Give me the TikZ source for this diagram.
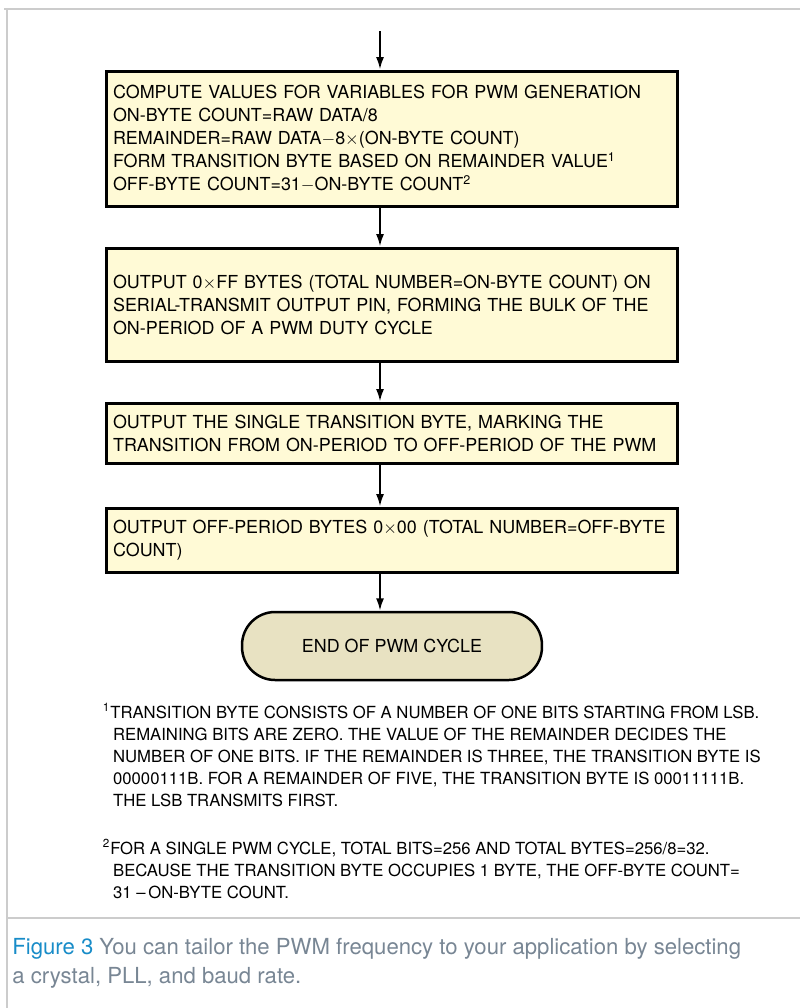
\documentclass[tikz,border=0pt]{standalone}
\usepackage{fontspec}
\setmainfont{TeX Gyre Heros}
\usetikzlibrary{arrows.meta}
\definecolor{boxfill}{RGB}{255,250,214}
\definecolor{endfill}{RGB}{232,226,194}
\definecolor{framegray}{RGB}{204,204,204}
\definecolor{capblue}{RGB}{24,140,200}
\definecolor{capgray}{RGB}{120,134,148}

\begin{document}
\begin{tikzpicture}[x=0.02cm, y=-0.02cm,
  stepbox/.style={draw, rectangle, line width=0.06cm, fill=boxfill,
    minimum width=11.44cm, text width=11.16cm, inner xsep=0.14cm,
    inner ysep=0pt, align=left, font=\fontsize{10.2}{13.1}\selectfont},
  endbox/.style={draw, rectangle, line width=0.05cm, fill=endfill,
    rounded corners=0.66cm, minimum width=6cm, minimum height=1.36cm,
    font=\fontsize{10.2}{13.1}\selectfont},
  flow/.style={line width=0.04cm, -{Latex[length=7pt,width=4.5pt]}},
  note/.style={anchor=north west, align=left, inner sep=0pt,
    font=\fontsize{9.5}{12.5}\selectfont},
  rule/.style={framegray, line width=0.04cm}]

\useasboundingbox (0,0) rectangle (800,1008);

% frame
\draw[rule] (4,9) -- (800,9);
\draw[rule] (7,9) -- (7,1008);
\draw[rule] (7,918) -- (800,918);

% flow chart
\coordinate (entry) at (380,31);
\node[stepbox, minimum height=2.72cm] (compute) at (392,139) {%
COMPUTE VALUES FOR VARIABLES FOR PWM GENERATION\\
ON-BYTE COUNT=RAW DATA/8\\
REMAINDER=RAW DATA$-$8$\times$(ON-BYTE COUNT)\\
FORM TRANSITION BYTE BASED ON REMAINDER VALUE\textsuperscript{1}\\
OFF-BYTE COUNT=31$-$ON-BYTE COUNT\textsuperscript{2}};
\node[stepbox, minimum height=2.28cm] (onbytes) at (392,305) {%
OUTPUT 0$\times$FF BYTES (TOTAL NUMBER=ON-BYTE COUNT) ON\\
SERIAL-TRANSMIT OUTPUT PIN, FORMING THE BULK OF THE\\
ON-PERIOD OF A PWM DUTY CYCLE};
\node[stepbox, minimum height=1.2cm] (transbyte) at (392,433) {%
OUTPUT THE SINGLE TRANSITION BYTE, MARKING THE\\
TRANSITION FROM ON-PERIOD TO OFF-PERIOD OF THE PWM};
\node[stepbox, minimum height=1.28cm] (offbytes) at (392,540) {%
OUTPUT OFF-PERIOD BYTES 0$\times$00 (TOTAL NUMBER=OFF-BYTE\\
COUNT)};
\node[endbox] (cycleend) at (392,646) {END OF PWM CYCLE};

\draw[flow] (entry) -- (entry |- compute.north);
\draw[flow] (compute.south -| entry) -- (entry |- onbytes.north);
\draw[flow] (onbytes.south -| entry) -- (entry |- transbyte.north);
\draw[flow] (transbyte.south -| entry) -- (entry |- offbytes.north);
\draw[flow] (offbytes.south -| entry) -- (entry |- cycleend.north);

% footnotes
\node[note] (noteone) at (110,703) {%
\llap{\textsuperscript{1}}TRANSITION BYTE CONSISTS OF A NUMBER OF ONE BITS STARTING FROM LSB.\\
\,REMAINING BITS ARE ZERO. THE VALUE OF THE REMAINDER DECIDES THE\\
\,NUMBER OF ONE BITS. IF THE REMAINDER IS THREE, THE TRANSITION BYTE IS\\
\,00000111B. FOR A REMAINDER OF FIVE, THE TRANSITION BYTE IS 00011111B.\\
\,THE LSB TRANSMITS FIRST.};
\node[note] (notetwo) at (110,839) {%
\llap{\textsuperscript{2}}FOR A SINGLE PWM CYCLE, TOTAL BITS=256 AND TOTAL BYTES=256/8=32.\\
\,BECAUSE THE TRANSITION BYTE OCCUPIES 1 BYTE, THE OFF-BYTE COUNT=\\
\,31 –\,ON-BYTE COUNT.};

% caption
\node[anchor=north west, align=left, inner sep=0pt, text=capgray,
  font=\fontsize{12.6}{16.5}\selectfont] (caption) at (12,938) {%
{\color{capblue}Figure 3} You can tailor the PWM frequency to your application by selecting\\
a crystal, PLL, and baud rate.};
\end{tikzpicture}
\end{document}
